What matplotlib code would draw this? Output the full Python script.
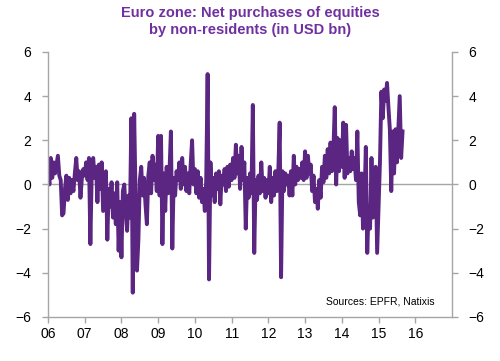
import numpy as np
import matplotlib.pyplot as plt

plt.rcParams['font.family'] = ['Liberation Sans', 'DejaVu Sans']

# fortnightly net purchases (USD bn), 26 points per year
y2006 = [0.5, 0.0, 1.2, 0.3, 1.0, 0.5, 0.9, 1.3, 0.4, 0.2, -1.4, -1.3, -0.2,
         0.4, -0.7, 0.3, -0.4, 0.2, -0.3, 0.5, 1.2, 0.2, 0.6, -0.6, 0.3, 0.7]
y2007 = [0.4, 1.0, 0.2, 1.2, -2.7, 0.6, 1.2, 0.3, 0.8, -0.8, 0.9, -0.2, 1.0,
         -1.2, -0.3, 0.6, -2.5, -0.2, -1.0, 0.1, -1.5, -0.4, -1.8, 0.1, -3.0, -0.8]
y2008 = [-3.3, -0.3, 0.0, -1.2, -2.1, -0.5, -1.5, 3.0, -4.9, 3.2, -0.5, -3.9, -2.5,
         0.2, 0.8, -0.5, 0.3, -0.9, -1.8, 0.4, 1.0, -0.4, 1.3, 0.2, 0.9, -0.3]
y2009 = [2.2, -0.5, 2.2, -2.7, 0.5, -1.2, 0.8, -0.4, 0.6, 2.4, -2.9, 0.3, -0.5,
         0.6, 0.2, 1.0, -0.2, 1.2, 0.0, 0.8, -0.3, 0.5, -0.4, 0.9, 2.0, 0.0]
y2010 = [0.7, -0.4, 0.6, -0.6, 0.3, -0.8, -0.2, -1.2, 0.2, 5.0, -4.3, 1.0, -0.5,
         0.3, -0.8, 0.5, -0.2, 0.6, -0.9, 0.4, 0.0, 0.7, -0.3, 0.8, -0.1, 0.9]
y2011 = [0.2, 1.2, 0.3, 1.8, 0.5, 1.3, -0.2, 1.7, 0.2, 1.0, -2.0, 0.3, -0.6,
         0.5, -0.4, 3.6, -3.1, 0.2, -0.7, 0.4, -0.4, 1.0, -0.3, 0.3, -0.6, 0.2]
y2012 = [-0.4, 0.8, -0.8, 0.3, -0.5, 0.6, -0.3, 0.5, 2.8, -4.2, 0.6, -0.3, 0.5,
         0.0, 0.4, -0.5, 0.6, -0.5, 1.3, 0.0, 0.8, 0.2, 0.7, 0.3, 1.0, 0.2]
y2013 = [1.5, 0.3, 1.3, 0.5, 0.9, -0.3, 0.4, -0.8, -0.2, -1.1, 0.2, -0.6, 0.8,
         0.1, 1.3, 0.3, 1.6, 0.5, 1.9, 0.6, 1.5, 3.5, 0.0, 2.1, 0.6, 2.0]
y2014 = [0.8, 2.8, 0.3, 2.7, 0.5, 1.2, 0.6, 1.5, 0.7, 1.2, 0.2, 2.4, -0.8,
         -1.4, 0.5, -2.0, -0.8, 1.7, -3.1, -1.0, -2.0, 1.2, -1.5, -0.5, 0.8, -3.1]
y2015 = [-1.0, 1.0, 4.2, 3.0, 4.3, 3.8, 4.6, 3.5, 2.5, -0.3, 2.4, 0.5, 2.5,
         1.0, 2.5, 4.0, 1.2, 2.4]

years = [2006, 2007, 2008, 2009, 2010, 2011, 2012, 2013, 2014, 2015]
series = [y2006, y2007, y2008, y2009, y2010, y2011, y2012, y2013, y2014, y2015]

t = np.concatenate([yr + np.arange(len(v)) / 26 for yr, v in zip(years, series)])
vals = np.concatenate(series)

tick_years = list(range(2006, 2017))
tick_labels = ['06', '07', '08', '09', '10', '11', '12', '13', '14', '15', '16']

grey = '#a6a6a6'
fig = plt.figure(figsize=(5, 3.61), dpi=100)
ax = fig.add_axes([0.096, 0.122, 0.808, 0.734])

ax.axhline(0, color=grey, lw=1, zorder=1)
ax.plot(t, vals, color='#5b2682', lw=2.8, zorder=2, solid_joinstyle='round')

ax.set_xlim(2006, 2017)
ax.set_ylim(-6, 6)
ax.set_yticks(range(-6, 7, 2))
ax.set_xticks(tick_years)
ax.set_xticklabels(tick_labels)

for s in ['left', 'right', 'bottom']:
    ax.spines[s].set_color(grey)
    ax.spines[s].set_linewidth(1)
ax.spines['top'].set_visible(False)

ax.tick_params(axis='both', colors=grey, labelcolor='black', labelsize=10,
               length=4, width=1)
ax.tick_params(axis='y', left=True, right=True, labelleft=True, labelright=True, pad=8)
ax.tick_params(axis='x', pad=3)

fig.text(0.5, 0.982, 'Euro zone: Net purchases of equities\nby non-residents (in USD bn)',
         ha='center', va='top', color='#7030a0', fontsize=10.5, fontweight='bold',
         linespacing=1.2)
ax.text(0.958, 0.04, 'Sources: EPFR, Natixis', transform=ax.transAxes,
        ha='right', va='bottom', fontsize=7.5)

fig.savefig('out.png', dpi=100)
